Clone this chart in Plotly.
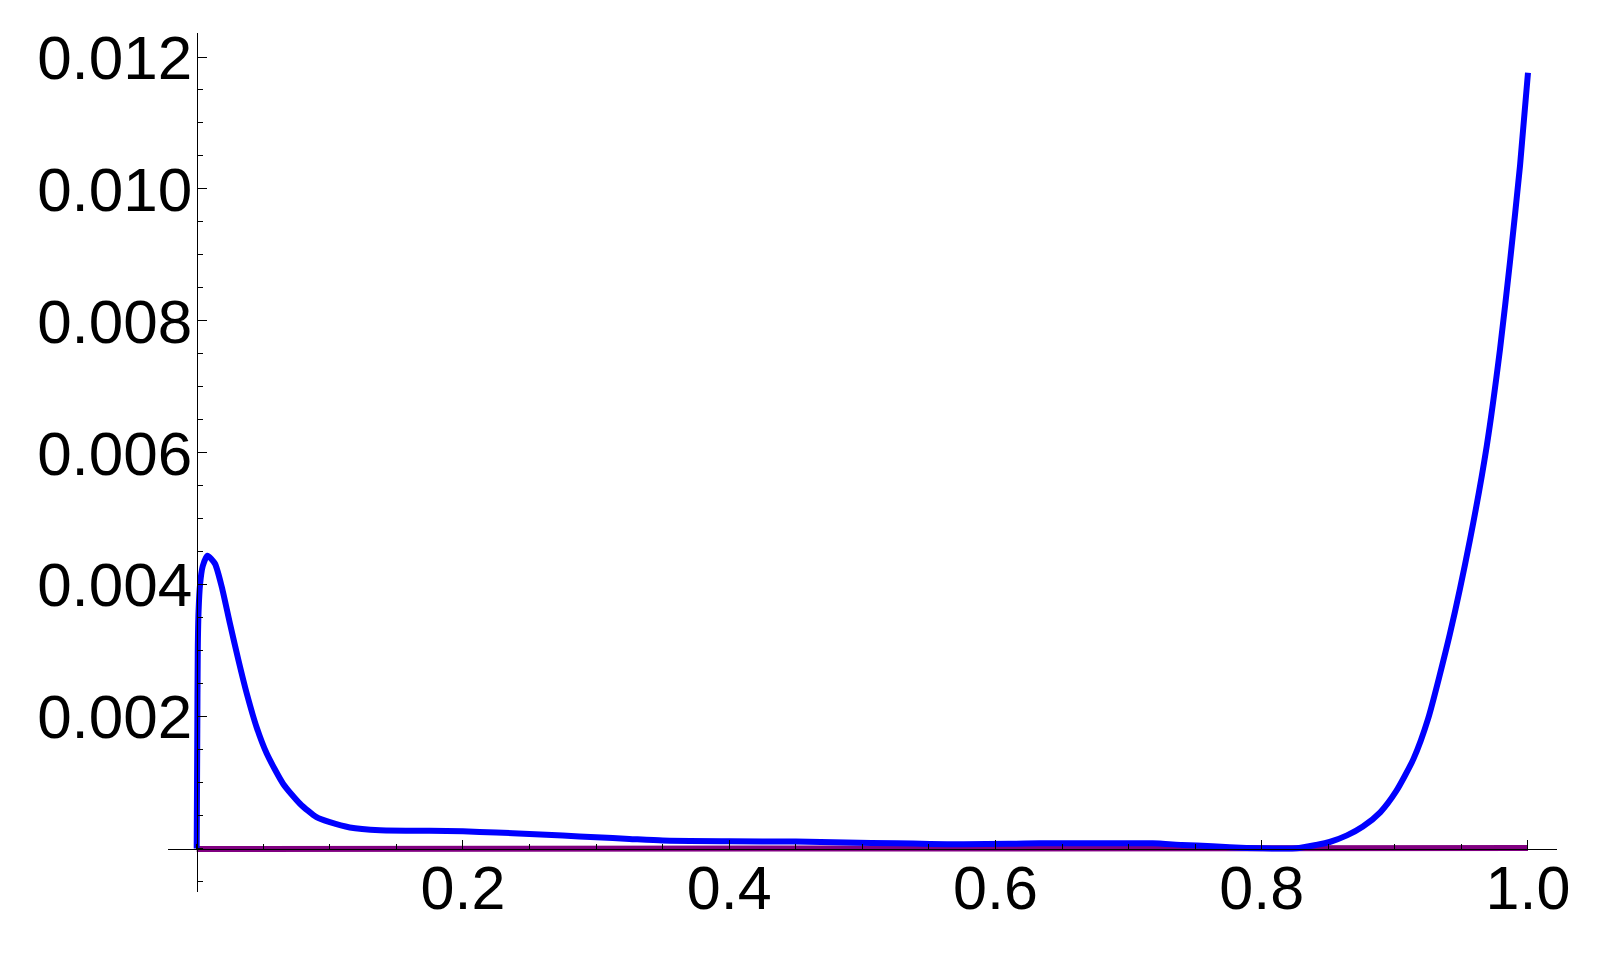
import plotly.graph_objects as go

# Blue curve
blue_x = [0.0, 0.0004, 0.0008, 0.0014, 0.0025, 0.0045, 0.008, 0.0137, 0.0188, 0.025, 0.0313,
          0.0376, 0.045, 0.0526, 0.065, 0.0776, 0.09, 0.1, 0.115, 0.1377, 0.16, 0.175,
          0.2, 0.225, 0.25, 0.275, 0.3, 0.325, 0.35, 0.4, 0.45, 0.488, 0.526, 0.551,
          0.576, 0.61, 0.633, 0.68, 0.718, 0.74, 0.763, 0.776, 0.8, 0.826, 0.841,
          0.851, 0.864, 0.876, 0.889, 0.901, 0.914, 0.925, 0.9414,
          0.9564, 0.969, 0.979, 0.9865, 0.994, 1.0]
blue_y = [0.0, 0.0016, 0.0030, 0.0036, 0.0040, 0.00428, 0.00444, 0.00432, 0.00397, 0.00341, 0.00286,
          0.00235, 0.00184, 0.00144, 0.00098, 0.00068, 0.000476, 0.0004, 0.00032, 0.000278, 0.000272, 0.000272,
          0.000263, 0.000243, 0.000223, 0.000197, 0.000172, 0.000147, 0.000122, 0.000111, 0.000106, 0.000091, 0.000081, 0.00007,
          0.000065, 0.000072, 0.00008, 0.00008, 0.00008, 0.000056, 0.000035, 0.00002, 0.000005, 0.000005, 0.000056,
          0.0001, 0.0002, 0.000334, 0.00055, 0.00087, 0.00136, 0.00197, 0.00326,
          0.00468, 0.0061, 0.00757, 0.0089, 0.01035, 0.01176]

# Purple curve (essentially zero)
purple_x = [0.0, 0.2, 0.4, 0.6, 0.8, 0.9, 1.0]
purple_y = [-0.000005, -0.000005, -0.000005, -0.000005, -0.000004, 0.0, 0.000008]

x_tickvals = [0.2, 0.4, 0.6, 0.8, 1.0]
x_ticktext = ["0.2", "0.4", "0.6", "0.8", "1.0"]
y_tickvals = [0.002, 0.004, 0.006, 0.008, 0.010, 0.012]
y_ticktext = ["0.002", "0.004", "0.006", "0.008", "0.010", "0.012"]

x_range = [-0.02156, 1.02179]
y_range = [-0.000658, 0.012364]

fig = go.Figure()
fig.add_trace(go.Scatter(x=purple_x, y=purple_y, mode="lines",
                         line=dict(color="#800080", width=6), hoverinfo="skip"))
fig.add_trace(go.Scatter(x=blue_x, y=blue_y, mode="lines",
                         line=dict(color="#0000FF", width=6, shape="spline", smoothing=0.6),
                         hoverinfo="skip"))

font = dict(family="Liberation Sans, Arial, sans-serif", size=62, color="black")

x_pos = (0 - y_range[0]) / (y_range[1] - y_range[0])
y_pos = (0 - x_range[0]) / (x_range[1] - x_range[0])

fig.update_layout(
    width=1590, height=945,
    margin=dict(l=160, r=41, t=25, b=61),
    paper_bgcolor="white", plot_bgcolor="white",
    showlegend=False,
    xaxis=dict(range=x_range, anchor="free", position=x_pos, domain=[0, 1], automargin=False,
               showgrid=False, zeroline=False, showline=True, linecolor="black", linewidth=1,
               tickmode="array", tickvals=x_tickvals, ticktext=x_ticktext,
               ticks="inside", ticklen=9, tickwidth=1, tickcolor="black",
               tickfont=dict(family="Liberation Sans, Arial, sans-serif", size=61, color="black"),
               ticklabelstandoff=-14,
               minor=dict(tickmode="linear", tick0=0, dtick=0.05, ticks="inside",
                          ticklen=5, tickwidth=1, tickcolor="black", showgrid=False),
               layer="above traces"),
    yaxis=dict(range=y_range, anchor="free", position=y_pos, domain=[0, 1], automargin=False,
               showgrid=False, zeroline=False, showline=True, linecolor="black", linewidth=1,
               tickmode="array", tickvals=y_tickvals, ticktext=y_ticktext,
               ticks="inside", ticklen=9, tickwidth=1, tickcolor="black",
               tickfont=font, ticklabelstandoff=-8,
               minor=dict(tickmode="linear", tick0=0, dtick=0.0005, ticks="inside",
                          ticklen=5, tickwidth=1, tickcolor="black", showgrid=False),
               layer="above traces"),
)

fig.write_html("out.html")
